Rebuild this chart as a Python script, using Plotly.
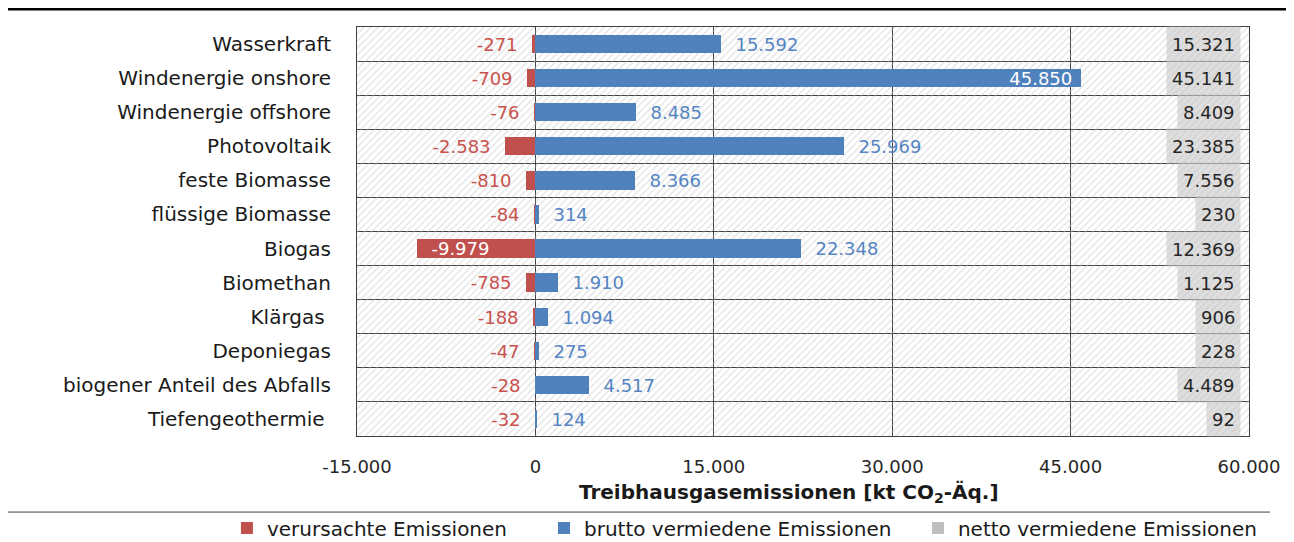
import plotly.graph_objects as go

categories = ["Wasserkraft", "Windenergie onshore", "Windenergie offshore", "Photovoltaik",
              "feste Biomasse", "flüssige Biomasse", "Biogas", "Biomethan", "Klärgas ",
              "Deponiegas", "biogener Anteil des Abfalls", "Tiefengeothermie "]
caused = [-271, -709, -76, -2583, -810, -84, -9979, -785, -188, -47, -28, -32]
gross = [15592, 45850, 8485, 25969, 8366, 314, 22348, 1910, 1094, 275, 4517, 124]
net = [15321, 45141, 8409, 23385, 7556, 230, 12369, 1125, 906, 228, 4489, 92]
tick_vals = [-15000, 0, 15000, 30000, 45000, 60000]
x_min, x_max = -15000, 60000

FONT = "DejaVu Sans"
RED, BLUE, GREY = "#C0504D", "#4F81BD", "#BFBFBF"
RED_TXT, BLUE_TXT = "#C9514E", "#5585C4"
NB = "\u00a0"


def fmt(v):
    return f"{v:,}".replace(",", ".")


pos = list(range(len(categories)))
red_inside = [v < -5000 for v in caused]
blue_inside = [v > 40000 for v in gross]

fig = go.Figure()

# hatched plot background
fig.add_trace(go.Bar(
    y=pos, x=[x_max - x_min] * len(pos), base=[x_min] * len(pos), orientation="h",
    width=1, marker=dict(color="rgba(0,0,0,0)", line=dict(width=0),
                         pattern=dict(shape="/", fgcolor="#C4C4C4", bgcolor="rgba(0,0,0,0)",
                                      size=5, solidity=0.25)),
    showlegend=False, hoverinfo="skip"))

fig.add_trace(go.Bar(
    y=pos, x=caused, orientation="h", width=0.54, name="verursachte Emissionen",
    legend="legend",
    marker=dict(color=RED, line=dict(width=0)),
    text=[(NB * 2 + fmt(v)) if ins else (fmt(v) + NB * 2) for v, ins in zip(caused, red_inside)],
    textposition=["inside" if ins else "outside" for ins in red_inside],
    insidetextanchor="end", constraintext="none",
    textfont=dict(family=FONT, size=18),
    insidetextfont=dict(color="white", family=FONT, size=18),
    outsidetextfont=dict(color=RED_TXT, family=FONT, size=18),
    cliponaxis=False))

fig.add_trace(go.Bar(
    y=pos, x=gross, orientation="h", width=0.54, name="brutto vermiedene Emissionen",
    legend="legend2",
    marker=dict(color=BLUE, line=dict(width=0)),
    text=[(fmt(v) + NB) if ins else (NB * 2 + fmt(v)) for v, ins in zip(gross, blue_inside)],
    textposition=["inside" if ins else "outside" for ins in blue_inside],
    insidetextanchor="end", constraintext="none",
    textfont=dict(family=FONT, size=18),
    insidetextfont=dict(color="white", family=FONT, size=18),
    outsidetextfont=dict(color=BLUE_TXT, family=FONT, size=18),
    cliponaxis=False))

# legend entry for net values
fig.add_trace(go.Bar(y=[None], x=[None], orientation="h", name="netto vermiedene Emissionen",
                     legend="legend3", marker=dict(color=GREY, line=dict(width=0))))

for i, v in zip(pos, net):
    fig.add_annotation(x=0.991, xref="x domain", y=i, yref="y", xanchor="right",
                       text=fmt(v), showarrow=False, bgcolor="rgba(195,195,195,0.55)",
                       borderpad=5, height=24, valign="middle",
                       font=dict(family=FONT, size=18, color="#262626"))

fig.add_annotation(x=0.484, xref="paper", y=-0.139, yref="paper", yanchor="middle",
                   text="<b>Treibhausgasemissionen [kt CO<sub>2</sub>-Äq.]</b>", showarrow=False,
                   font=dict(family=FONT, size=20, color="#1a1a1a"))

leg_common = dict(orientation="h", xref="container", yref="container", xanchor="left",
                  y=0.0406, yanchor="middle", bgcolor="rgba(0,0,0,0)", borderwidth=0,
                  font=dict(family=FONT, size=20, color="#1a1a1a"))

fig.update_layout(
    width=1294, height=542,
    margin=dict(l=349, r=53, t=19, b=114),
    paper_bgcolor="white", plot_bgcolor="white",
    barmode="overlay", bargap=0,
    font=dict(family=FONT, size=18, color="#262626"),
    xaxis=dict(range=[x_min, x_max], tickvals=tick_vals, ticktext=[fmt(v) for v in tick_vals],
               showgrid=True, gridcolor="#404040", gridwidth=1,
               zeroline=True, zerolinecolor="#404040", zerolinewidth=1,
               showline=True, linecolor="#404040", linewidth=1, mirror=True,
               ticks="", ticklabelstandoff=14,
               tickfont=dict(family=FONT, size=18, color="#262626")),
    yaxis=dict(range=[len(pos) - 0.5, -0.5], tickvals=pos, ticktext=categories,
               showgrid=False, zeroline=False,
               showline=True, linecolor="#404040", linewidth=1, mirror=True,
               ticks="", ticklabelstandoff=21,
               tickfont=dict(family=FONT, size=20, color="#1a1a1a"),
               minor=dict(tickvals=[p + 0.5 for p in pos[:-1]], showgrid=True,
                          gridcolor="#404040", gridwidth=1, ticks="")),
    legend=dict(x=0.1692, **leg_common),
    legend2=dict(x=0.4142, **leg_common),
    legend3=dict(x=0.7032, **leg_common),
    shapes=[
        dict(type="line", xref="paper", yref="paper", x0=-0.5, x1=1.1, y0=1.044, y1=1.044,
             line=dict(color="black", width=3)),
        dict(type="line", xref="paper", yref="paper", x0=-0.392, x1=1.0235, y0=-0.186, y1=-0.186,
             line=dict(color="#404040", width=1)),
    ],
)

fig.write_html("out.html")
